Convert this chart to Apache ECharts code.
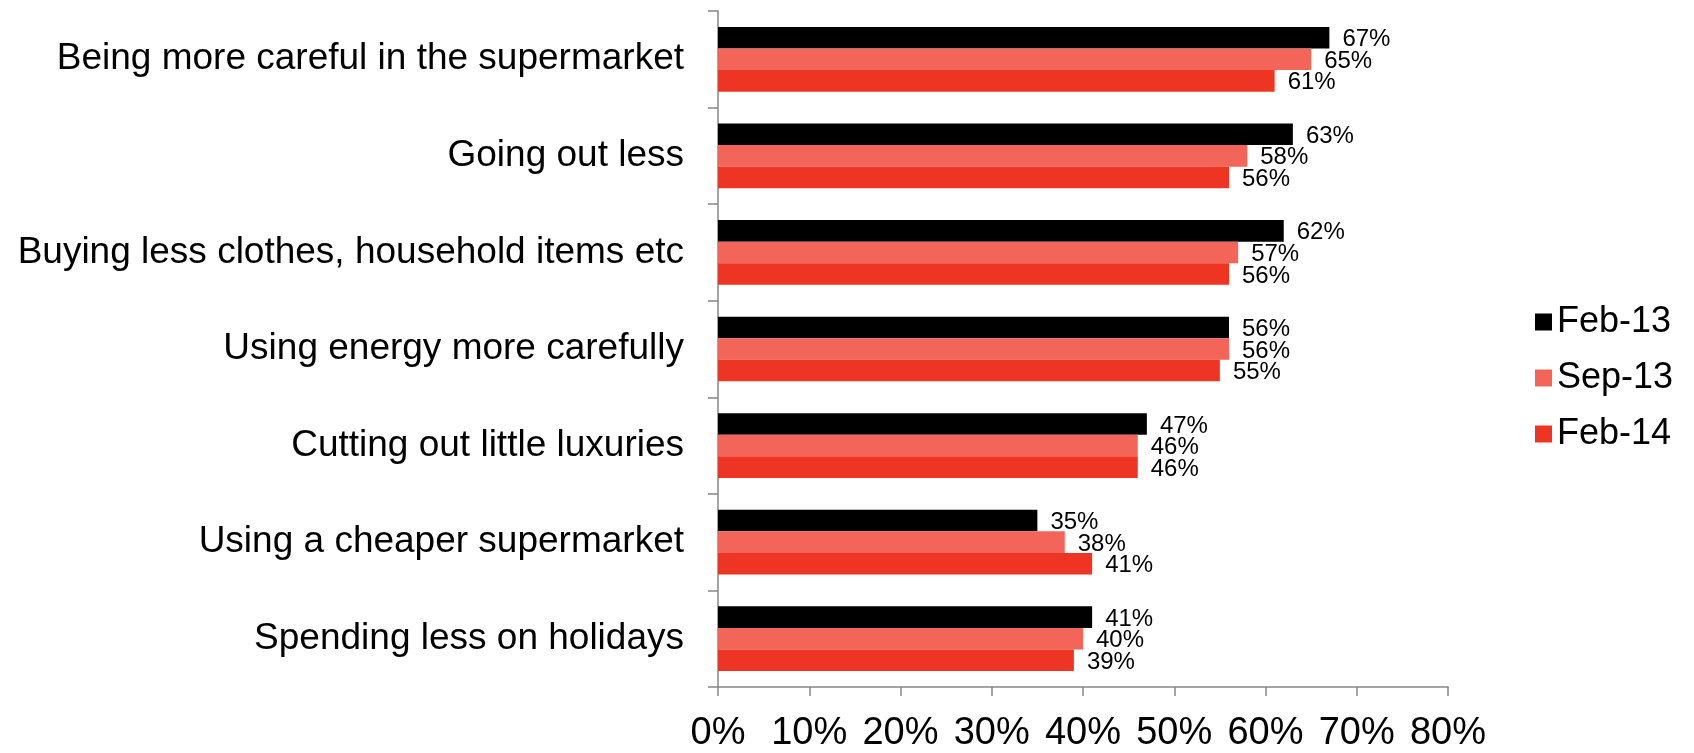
<!DOCTYPE html>
<html>
<head>
<meta charset="utf-8">
<script src="https://cdn.jsdelivr.net/npm/echarts@6/dist/echarts.min.js"></script>
<style>
  html, body { margin: 0; padding: 0; background: #ffffff; }
  #chart { width: 1694px; height: 753px; }
</style>
</head>
<body>
<div id="chart"></div>
<script>
// Ways of saving money, share of respondents (%)
const categories = [
  'Being more careful in the supermarket',
  'Going out less',
  'Buying less clothes, household items etc',
  'Using energy more carefully',
  'Cutting out little luxuries',
  'Using a cheaper supermarket',
  'Spending less on holidays'
];
const feb13 = [67, 63, 62, 56, 47, 35, 41];
const sep13 = [65, 58, 57, 56, 46, 38, 40];
const feb14 = [61, 56, 56, 55, 46, 41, 39];
const seriesNames = ['Feb-13', 'Sep-13', 'Feb-14'];
const xTicks = { min: 0, max: 80, interval: 10 };

const colors = ['#000000', '#F26558', '#EE3524'];
const font = 'Liberation Sans, Arial, sans-serif';

const chart = echarts.init(document.getElementById('chart'), null, { renderer: 'canvas' });

function barSeries(name, data, color) {
  return {
    name: name,
    type: 'bar',
    data: data,
    barGap: '0%',
    barCategoryGap: '33%',
    itemStyle: { color: color },
    label: {
      show: true,
      position: 'right',
      distance: 13,
      offset: [0, 2],
      formatter: '{c}%',
      color: '#000000',
      fontFamily: font,
      fontSize: 24
    }
  };
}

chart.setOption({
  animation: false,
  color: colors,
  grid: { left: 718, width: 730, top: 11, height: 680.5, containLabel: false },
  legend: {
    orient: 'vertical',
    left: 1530,
    top: 297,
    itemWidth: 17,
    itemHeight: 17,
    itemGap: 16,
    icon: 'rect',
    data: seriesNames,
    textStyle: { fontFamily: font, fontSize: 36, color: '#000000', lineHeight: 40 }
  },
  xAxis: {
    type: 'value',
    min: xTicks.min,
    max: xTicks.max,
    interval: xTicks.interval,
    splitLine: { show: false },
    axisLine: { show: true, lineStyle: { color: '#878787', width: 1.5 } },
    axisTick: { show: true, length: 9, lineStyle: { color: '#878787', width: 1.5 } },
    axisLabel: {
      formatter: '{value}%',
      margin: 28,
      color: '#000000',
      fontFamily: font,
      fontSize: 38
    }
  },
  yAxis: {
    type: 'category',
    data: categories,
    inverse: true,
    axisLine: { show: true, lineStyle: { color: '#878787', width: 1.5 } },
    axisTick: { show: true, length: 10, lineStyle: { color: '#878787', width: 1.5 } },
    axisLabel: {
      margin: 34,
      padding: [5, 0, 0, 0],
      color: '#000000',
      fontFamily: font,
      fontSize: 37
    }
  },
  series: [
    barSeries(seriesNames[0], feb13, colors[0]),
    barSeries(seriesNames[1], sep13, colors[1]),
    barSeries(seriesNames[2], feb14, colors[2])
  ]
});
</script>
</body>
</html>
